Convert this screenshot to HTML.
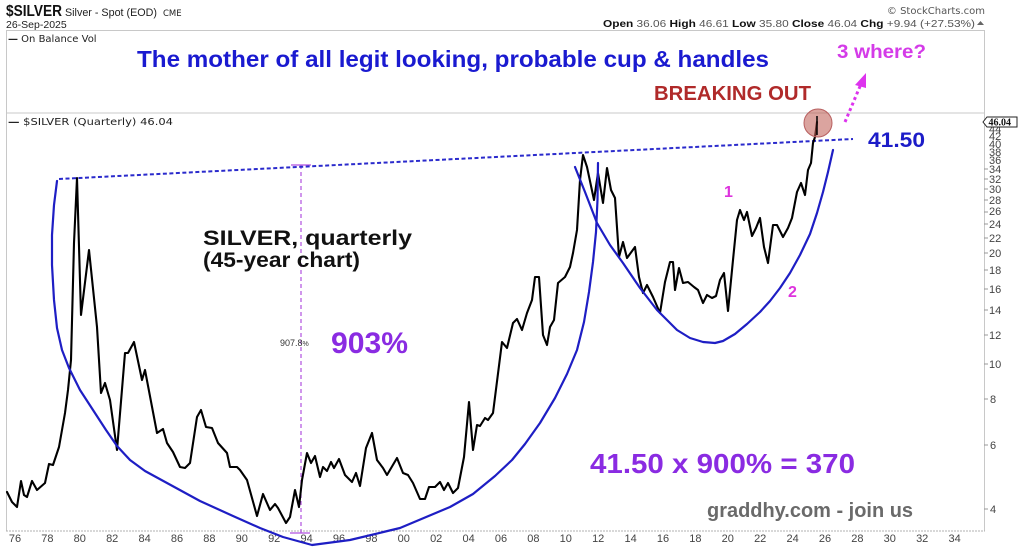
<!DOCTYPE html>
<html><head><meta charset="utf-8"><style>
html,body{margin:0;padding:0;background:#fff;}
svg{display:block;}
</style></head><body>
<svg width="1024" height="549" viewBox="0 0 1024 549" xmlns="http://www.w3.org/2000/svg" font-family="Liberation Sans, Arial, sans-serif">
<rect width="1024" height="549" fill="#fff"/>
<!-- header -->
<text x="6" y="16" font-size="15.5" font-weight="bold" fill="#111" textLength="56" lengthAdjust="spacingAndGlyphs">$SILVER</text>
<text x="65" y="16" font-size="11" fill="#222" textLength="92" lengthAdjust="spacingAndGlyphs">Silver - Spot (EOD)</text>
<text x="163" y="16" font-size="8.5" fill="#222" font-family="DejaVu Sans, sans-serif">CME</text>
<text x="6" y="28" font-size="10.5" fill="#222">26-Sep-2025</text>
<text x="985" y="14" font-size="10" fill="#555" text-anchor="end" font-family="DejaVu Sans, sans-serif">© StockCharts.com</text>
<text x="603" y="27" font-size="10.5" fill="#555" textLength="372" lengthAdjust="spacingAndGlyphs"><tspan font-weight="bold" fill="#111">Open</tspan> 36.06 <tspan font-weight="bold" fill="#111">High</tspan> 46.61 <tspan font-weight="bold" fill="#111">Low</tspan> 35.80 <tspan font-weight="bold" fill="#111">Close</tspan> 46.04 <tspan font-weight="bold" fill="#111">Chg</tspan> +9.94 (+27.53%)</text>
<path d="M977 25 L980.5 21 L984 25 Z" fill="#666"/>

<!-- panel borders -->
<rect x="6.5" y="30.5" width="978" height="82.5" fill="none" stroke="#c8c8c8" stroke-width="1"/>
<line x1="6.5" y1="113" x2="6.5" y2="531" stroke="#c8c8c8" stroke-width="1"/>
<line x1="984.5" y1="113" x2="984.5" y2="531" stroke="#c8c8c8" stroke-width="1"/>
<line x1="6" y1="531" x2="985" y2="531" stroke="#b0b0b0" stroke-width="1" stroke-dasharray="2,1"/>

<text x="8" y="42" font-size="10" fill="#222" font-family="DejaVu Sans, sans-serif"><tspan font-weight="bold">—</tspan> On Balance Vol</text>
<text x="8" y="125" font-size="10" fill="#222" font-family="DejaVu Sans, sans-serif" textLength="165" lengthAdjust="spacingAndGlyphs"><tspan font-weight="bold">—</tspan> $SILVER (Quarterly) 46.04</text>

<!-- y-axis labels -->
<g font-size="11" fill="#444" font-family="Liberation Sans, Arial, sans-serif">
<text x="990" y="513">4</text>
<text x="990" y="449">6</text>
<text x="990" y="403">8</text>
<text x="989" y="368">10</text>
<text x="989" y="339">12</text>
<text x="989" y="314">14</text>
<text x="989" y="293">16</text>
<text x="989" y="274">18</text>
<text x="989" y="257">20</text>
<text x="989" y="242">22</text>
<text x="989" y="228">24</text>
<text x="989" y="215">26</text>
<text x="989" y="204">28</text>
<text x="989" y="193">30</text>
<text x="989" y="183">32</text>
<text x="989" y="173">34</text>
<text x="989" y="164">36</text>
<text x="989" y="156">38</text>
<text x="989" y="148">40</text>
<text x="989" y="140">42</text>
<text x="989" y="133">44</text>
</g>
<g stroke="#999" stroke-width="1">
<line x1="984" y1="509" x2="988" y2="509"/><line x1="984" y1="445" x2="988" y2="445"/>
<line x1="984" y1="399" x2="988" y2="399"/><line x1="984" y1="364" x2="988" y2="364"/>
<line x1="984" y1="335" x2="988" y2="335"/><line x1="984" y1="310" x2="988" y2="310"/>
<line x1="984" y1="289" x2="988" y2="289"/><line x1="984" y1="270" x2="988" y2="270"/>
<line x1="984" y1="253" x2="988" y2="253"/><line x1="984" y1="238" x2="988" y2="238"/>
<line x1="984" y1="224" x2="988" y2="224"/><line x1="984" y1="212" x2="988" y2="212"/>
<line x1="984" y1="200" x2="988" y2="200"/><line x1="984" y1="189" x2="988" y2="189"/>
<line x1="984" y1="179" x2="988" y2="179"/><line x1="984" y1="169" x2="988" y2="169"/>
</g>
<path d="M983 122 L987 117 L1017 117 L1017 127 L987 127 Z" fill="#fff" stroke="#222" stroke-width="1"/>
<text x="988.5" y="125.5" font-size="10" font-weight="bold" fill="#111" font-family="Liberation Serif, serif">46.04</text>

<!-- x-axis labels -->
<g font-size="11" fill="#444" text-anchor="middle">
<text x="15" y="542">76</text><text x="47.4" y="542">78</text><text x="79.8" y="542">80</text>
<text x="112.2" y="542">82</text><text x="144.6" y="542">84</text><text x="177" y="542">86</text>
<text x="209.4" y="542">88</text><text x="241.8" y="542">90</text><text x="274.2" y="542">92</text>
<text x="306.6" y="542">94</text><text x="339" y="542">96</text><text x="371.4" y="542">98</text>
<text x="403.8" y="542">00</text><text x="436.2" y="542">02</text><text x="468.6" y="542">04</text>
<text x="501" y="542">06</text><text x="533.4" y="542">08</text><text x="565.8" y="542">10</text>
<text x="598.2" y="542">12</text><text x="630.6" y="542">14</text><text x="663" y="542">16</text>
<text x="695.4" y="542">18</text><text x="727.8" y="542">20</text><text x="760.2" y="542">22</text>
<text x="792.6" y="542">24</text><text x="825" y="542">26</text><text x="857.4" y="542">28</text>
<text x="889.8" y="542">30</text><text x="922.2" y="542">32</text><text x="954.6" y="542">34</text>
</g>

<!-- purple measure line -->
<line x1="301" y1="165" x2="301" y2="533" stroke="#b050e0" stroke-width="1.2" stroke-dasharray="4,3"/>
<line x1="291" y1="165" x2="311" y2="165" stroke="#b050e0" stroke-width="1.2"/>
<line x1="290" y1="533" x2="310" y2="533" stroke="#b050e0" stroke-width="1.2"/>

<!-- resistance dotted line -->
<line x1="59" y1="179" x2="853" y2="139" stroke="#2a2acc" stroke-width="2" stroke-dasharray="4,2.5"/>

<!-- price -->
<polyline fill="none" stroke="#000" stroke-width="2.1" stroke-linejoin="round" stroke-linecap="round" points="7,492 12,502 17,507 21,481 24,495 27,497 32,481 37,490 45,483 49,464 53,465 59,447 65,413 68,390 71,360 74,243 77,178 81,315 89,250 97,327 101,393 105,383 110,400 117,450 125,353 128,353 134,342 142,380 145,370 157,433 163,429 167,443 173,452 180,467 185,468 190,463 197,417 201,410 206,427 212,428 218,443 227,453 230,467 237,467 240,470 247,480 257,516 263,494 270,510 275,504 278,508 286,523 290,517 295,490 299,507 302,480 307,453 311,463 315,456 320,477 323,467 327,471 331,462 334,468 339,459 345,475 352,482 356,473 360,486 366,448 372,433 377,460 383,468 387,475 397,458 403,473 408,475 413,483 420,499 425,499 429,487 435,487 440,482 444,490 448,483 453,493 458,488 464,457 469,402 473,450 477,425 480,426 485,418 488,420 493,413 502,342 507,348 513,323 517,319 522,330 527,313 532,300 535,277 539,277 543,335 547,345 550,327 554,320 558,283 565,277 570,267 573,253 577,230 580,180 583,155 587,167 594,200 598,173 603,203 607,168 611,190 615,198 619,257 623,242 627,258 635,247 639,277 643,293 647,285 653,297 660,313 665,282 670,262 673,262 675,290 679,268 683,283 688,282 694,287 698,290 703,303 707,295 712,298 716,296 720,280 724,273 728,311 733,260 737,220 740,210 744,220 747,212 752,236 756,228 760,218 764,247 768,263 773,225 777,225 783,237 788,228 792,218 797,192 801,183 805,195 808,170 811,163 813,143 815,137 817,122"/>

<!-- big cup -->
<polyline fill="none" stroke="#1e1ec4" stroke-width="2.2" stroke-linejoin="round" stroke-linecap="round" points="57,181 54,205 52,235 52,265 54,300 57,328 62,350 69,368 80,390 93,410 106,430 117,446 130,460 145,471 167,483 200,501 233,516 260,528 283,537 312,545 350,540 400,528 450,507 473,494 495,476 512,460 525,444 540,423 555,398 567,374 577,350 584,322 589,292 593,262 596,232 597.5,200 598,163"/>
<!-- handle cup -->
<polyline fill="none" stroke="#1e1ec4" stroke-width="2.2" stroke-linejoin="round" stroke-linecap="round" points="575,167 585,192 597,223 610,245 623,263 640,288 657,310 677,330 690,338 703,342 715,343 723,341 735,334 747,324 760,312 770,301 780,288 790,273 800,255 810,234 817,213 823,192 828,172 833,150"/>

<!-- breakout circle -->
<circle cx="818" cy="123" r="14" fill="rgba(190,90,80,0.55)" stroke="#b86060" stroke-width="1"/>
<line x1="817" y1="135" x2="817" y2="116" stroke="#000" stroke-width="1.5"/>

<!-- arrow -->
<line x1="845" y1="122" x2="861" y2="84" stroke="#dd33ee" stroke-width="3" stroke-dasharray="3,3"/>
<path d="M866 73 L855 85 L866 88 Z" fill="#dd33ee"/>

<!-- annotations -->
<text x="137" y="67" font-size="23.5" font-weight="bold" fill="#1a1ad0" textLength="632" lengthAdjust="spacingAndGlyphs">The mother of all legit looking, probable cup &amp; handles</text>
<text x="837" y="58" font-size="19" font-weight="bold" fill="#d43be8" textLength="89" lengthAdjust="spacingAndGlyphs">3 where?</text>
<text x="654" y="100" font-size="20" font-weight="bold" fill="#b02a2a" textLength="157" lengthAdjust="spacingAndGlyphs">BREAKING OUT</text>
<text x="868" y="147" font-size="21" font-weight="bold" fill="#1c1cc8" textLength="57" lengthAdjust="spacingAndGlyphs">41.50</text>
<text x="203" y="245" font-size="21" font-weight="bold" fill="#111" textLength="209" lengthAdjust="spacingAndGlyphs">SILVER, quarterly</text>
<text x="203" y="267" font-size="21" font-weight="bold" fill="#111" textLength="157" lengthAdjust="spacingAndGlyphs">(45-year chart)</text>
<text x="280" y="346" font-size="9" fill="#333">907.8<tspan font-size="7">%</tspan></text>
<text x="331" y="353" font-size="30" font-weight="bold" fill="#8a2be2" textLength="77" lengthAdjust="spacingAndGlyphs">903%</text>
<text x="590" y="473" font-size="28" font-weight="bold" fill="#8a2be2" textLength="265" lengthAdjust="spacingAndGlyphs">41.50 x 900% = 370</text>
<text x="707" y="517" font-size="20" font-weight="bold" fill="#6a6a6a" textLength="206" lengthAdjust="spacingAndGlyphs">graddhy.com - join us</text>
<text x="724" y="197" font-size="16" font-weight="bold" fill="#dd33dd">1</text>
<text x="788" y="297" font-size="16" font-weight="bold" fill="#dd33dd">2</text>
</svg>
</body></html>
